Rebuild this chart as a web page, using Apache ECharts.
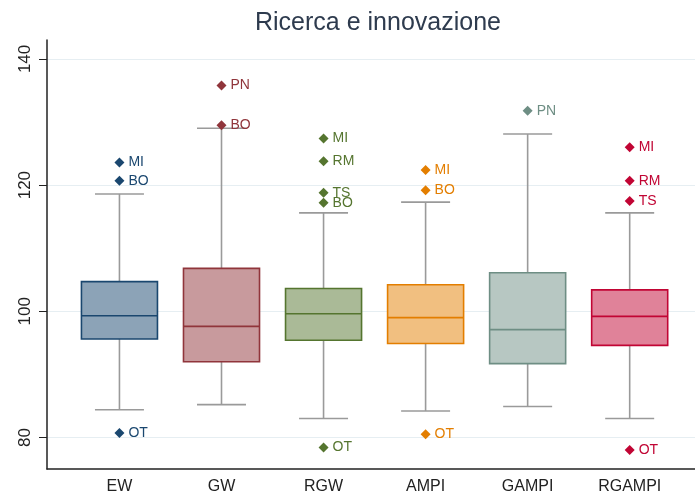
<!DOCTYPE html>
<html>
<head>
<meta charset="utf-8">
<script src="https://cdn.jsdelivr.net/npm/echarts@6/dist/echarts.min.js"></script>
<style>
  html, body { margin: 0; padding: 0; background: #fff; }
  #chart { width: 695px; height: 498px; }
</style>
</head>
<body>
<div id="chart"></div>
<script>
// categories and box statistics
const categories = ['EW', 'GW', 'RGW', 'AMPI', 'GAMPI', 'RGAMPI']
const lowerWhisker = [84.4, 85.2, 83.0, 84.2, 84.9, 83.0]
const q1 = [95.6, 92.0, 95.4, 94.9, 91.7, 94.6]
const median = [99.3, 97.6, 99.6, 99.0, 97.1, 99.2]
const q3 = [104.7, 106.8, 103.6, 104.2, 106.1, 103.4]
const upperWhisker = [118.6, 129.0, 115.6, 117.3, 128.1, 115.6]

// outliers per box: [label, value]
const ewOutliers = [['MI', 123.6], ['BO', 120.7], ['OT', 80.7]]
const gwOutliers = [['PN', 135.8], ['BO', 129.5]]
const rgwOutliers = [['MI', 127.4], ['RM', 123.8], ['TS', 118.8], ['BO', 117.2], ['OT', 78.4]]
const ampiOutliers = [['MI', 122.4], ['BO', 119.2], ['OT', 80.5]]
const gampiOutliers = [['PN', 131.8]]
const rgampiOutliers = [['MI', 126.0], ['RM', 120.7], ['TS', 117.5], ['OT', 78.0]]

const yTicks = [80, 100, 120, 140]

const lineColors = ['#1a476f', '#90353b', '#55752f', '#e37e00', '#6e8e84', '#c10534']
const fillColors = ['#8ca3b7', '#c89a9d', '#aaba97', '#f1bf80', '#b7c7c2', '#e08299']
const whiskerColor = '#9a9a9a'

const allOutliers = [ewOutliers, gwOutliers, rgwOutliers, ampiOutliers, gampiOutliers, rgampiOutliers]

const boxData = categories.map((c, i) => [i + 1, lowerWhisker[i], q1[i], median[i], q3[i], upperWhisker[i]])

const renderBox = (params, api) => {
  const i = params.dataIndex
  const x = api.value(0)
  const lo = api.coord([x, api.value(1)])
  const b1 = api.coord([x, api.value(2)])
  const md = api.coord([x, api.value(3)])
  const b3 = api.coord([x, api.value(4)])
  const hi = api.coord([x, api.value(5)])
  const boxW = api.size([0.745, 0])[0]
  const capW = api.size([0.48, 0])[0]
  const wStyle = { stroke: whiskerColor, lineWidth: 1.6 }
  return {
    type: 'group',
    children: [
      { type: 'line', shape: { x1: lo[0], y1: lo[1], x2: b1[0], y2: b1[1] }, style: wStyle },
      { type: 'line', shape: { x1: hi[0], y1: hi[1], x2: b3[0], y2: b3[1] }, style: wStyle },
      { type: 'line', shape: { x1: lo[0] - capW / 2, y1: lo[1], x2: lo[0] + capW / 2, y2: lo[1] }, style: wStyle },
      { type: 'line', shape: { x1: hi[0] - capW / 2, y1: hi[1], x2: hi[0] + capW / 2, y2: hi[1] }, style: wStyle },
      {
        type: 'rect',
        shape: { x: b3[0] - boxW / 2, y: b3[1], width: boxW, height: b1[1] - b3[1] },
        style: { fill: fillColors[i], stroke: lineColors[i], lineWidth: 1.6 }
      },
      {
        type: 'line',
        shape: { x1: md[0] - boxW / 2, y1: md[1], x2: md[0] + boxW / 2, y2: md[1] },
        style: { stroke: lineColors[i], lineWidth: 1.6 }
      }
    ]
  }
}

const outlierSeries = allOutliers.map((list, i) => ({
  type: 'scatter',
  symbol: 'diamond',
  symbolSize: [10, 10],
  itemStyle: { color: lineColors[i], opacity: 1 },
  label: {
    show: true,
    position: 'right',
    distance: 4,
    formatter: p => p.data[2],
    color: lineColors[i],
    fontSize: 14,
    fontFamily: 'Liberation Sans'
  },
  data: list.map(o => [i + 1, o[1], o[0]]),
  z: 5
}))

const chart = echarts.init(document.getElementById('chart'))

chart.setOption({
  animation: false,
  title: {
    text: 'Ricerca e innovazione',
    left: 373,
    textAlign: 'center',
    top: 6,
    textStyle: { fontSize: 25, fontWeight: 'normal', color: '#2e3b4e', fontFamily: 'Liberation Sans' }
  },
  grid: { left: 47, right: 0, top: 40, bottom: 29 },
  xAxis: {
    type: 'value',
    min: 0.29,
    max: 6.64,
    axisLine: { show: true, onZero: false, lineStyle: { color: '#222', width: 1.5 } },
    axisTick: { show: false },
    splitLine: { show: false },
    axisLabel: {
      customValues: [1, 2, 3, 4, 5, 6],
      formatter: v => categories[Math.round(v) - 1],
      color: '#222',
      fontSize: 16,
      fontFamily: 'Liberation Sans',
      margin: 10
    }
  },
  yAxis: {
    type: 'value',
    min: 75,
    max: 143,
    axisLine: { show: true, lineStyle: { color: '#222', width: 1.5 } },
    axisTick: { show: true, length: 8, customValues: yTicks, lineStyle: { color: '#222' } },
    splitLine: { show: true, lineStyle: { color: '#e6eef2', width: 1 } },
    axisLabel: {
      customValues: yTicks,
      rotate: 90,
      color: '#222',
      fontSize: 17,
      fontFamily: 'Liberation Sans',
      margin: 13
    }
  },
  series: [
    {
      type: 'custom',
      renderItem: renderBox,
      encode: { x: 0, y: [1, 2, 3, 4, 5] },
      data: boxData,
      z: 2
    },
    ...outlierSeries
  ]
})
</script>
</body>
</html>
